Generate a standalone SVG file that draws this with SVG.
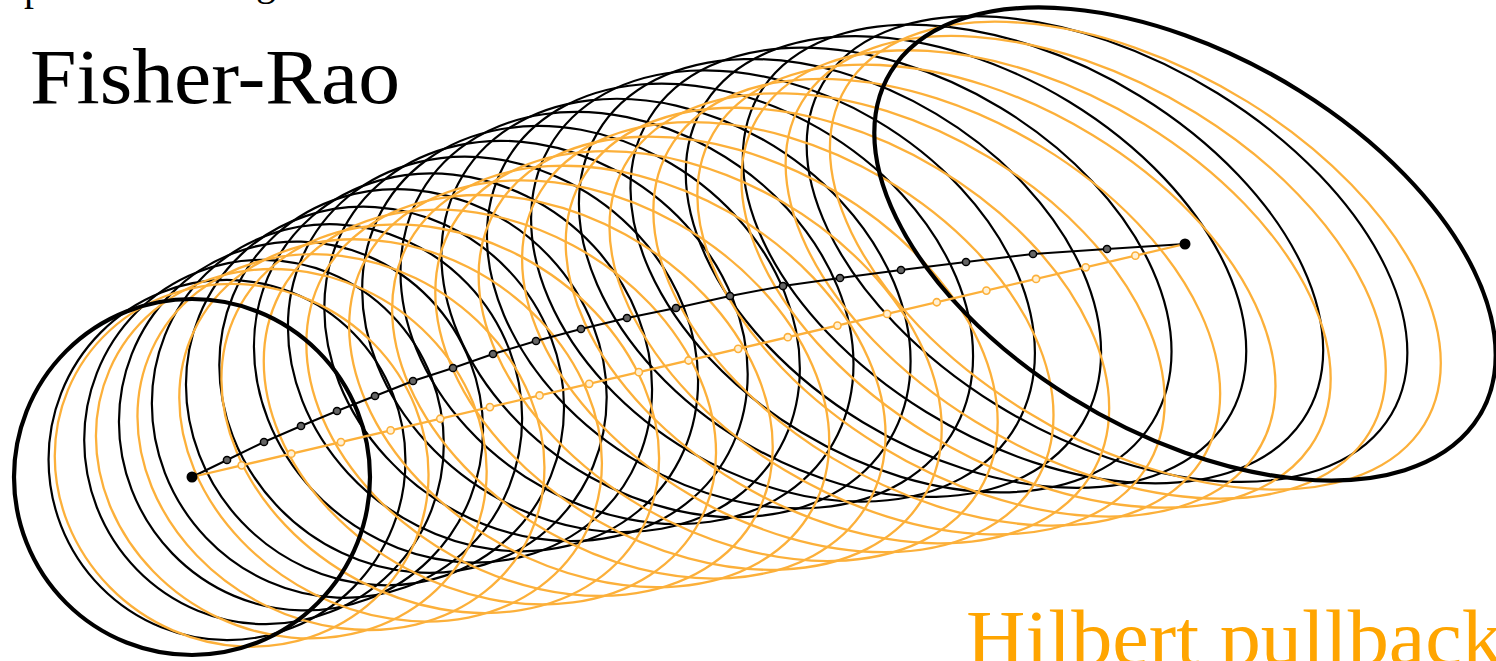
<svg xmlns="http://www.w3.org/2000/svg" width="1496" height="661" viewBox="0 0 1496 661">
<style>
.e{fill:none;vector-effect:non-scaling-stroke}
.fr{stroke:#000;stroke-width:2.2}
.hp{stroke:#FCB03A;stroke-width:2.3}
.thick{stroke:#000;stroke-width:4.2}
.pb{fill:#666;stroke:#000;stroke-width:1.5}
.po{fill:#FFF1D6;stroke:#FCB03A;stroke-width:1.6}
.lbl{font-family:"Liberation Serif","DejaVu Serif",serif}
</style>
<rect width="1496" height="661" fill="#fff"/>
<g id="fisher-rao-ellipses">
<circle class="e fr" r="1" transform="matrix(178.455 0.483 0 180.03 227 460)"/>
<circle class="e fr" r="1" transform="matrix(179.81 1.919 0 182.16 264 442)"/>
<circle class="e fr" r="1" transform="matrix(182.05 4.264 0 184.38 301 426)"/>
<circle class="e fr" r="1" transform="matrix(185.14 7.454 0 186.65 337 411)"/>
<circle class="e fr" r="1" transform="matrix(189.04 11.41 0 188.93 375 396)"/>
<circle class="e fr" r="1" transform="matrix(193.70 16.03 0 191.18 413 381)"/>
<circle class="e fr" r="1" transform="matrix(199.07 21.23 0 193.36 453 368)"/>
<circle class="e fr" r="1" transform="matrix(205.085 26.92 0 195.44 493 354)"/>
<circle class="e fr" r="1" transform="matrix(211.70 33.00 0 197.41 536 341)"/>
<circle class="e fr" r="1" transform="matrix(218.85 39.41 0 199.23 581 329)"/>
<circle class="e fr" r="1" transform="matrix(226.50 46.08 0 200.90 627 318)"/>
<circle class="e fr" r="1" transform="matrix(234.585 52.94 0 202.41 676 308)"/>
<circle class="e fr" r="1" transform="matrix(243.07 59.97 0 203.76 730 296)"/>
<circle class="e fr" r="1" transform="matrix(251.914 67.11 0 204.94 783 286)"/>
<circle class="e fr" r="1" transform="matrix(261.08 74.33 0 205.97 840 278)"/>
<circle class="e fr" r="1" transform="matrix(270.53 81.62 0 206.84 901 270)"/>
<circle class="e fr" r="1" transform="matrix(280.246 88.94 0 207.55 966 262)"/>
<circle class="e fr" r="1" transform="matrix(290.194 96.30 0 208.11 1033 254)"/>
<circle class="e fr" r="1" transform="matrix(300.35 103.67 0 208.53 1107 249)"/>
</g>
<g id="hilbert-ellipses">
<circle class="e hp" r="1" transform="matrix(186.885 9.23 0 181.14 241.65 465.35)"/>
<circle class="e hp" r="1" transform="matrix(195.37 17.659 0 183.84 291.3 453.7)"/>
<circle class="e hp" r="1" transform="matrix(203.5 25.43 0 186.21 340.95 442.05)"/>
<circle class="e hp" r="1" transform="matrix(211.32 32.65 0 188.33 390.6 430.4)"/>
<circle class="e hp" r="1" transform="matrix(218.85 39.41 0 190.245 440.25 418.75)"/>
<circle class="e hp" r="1" transform="matrix(226.14 45.77 0 192.0 489.9 407.1)"/>
<circle class="e hp" r="1" transform="matrix(233.2 51.78 0 193.62 539.55 395.45)"/>
<circle class="e hp" r="1" transform="matrix(240.05 57.49 0 195.135 589.2 383.8)"/>
<circle class="e hp" r="1" transform="matrix(246.71 62.93 0 196.56 638.85 372.15)"/>
<circle class="e hp" r="1" transform="matrix(253.2 68.13 0 197.905 688.5 360.5)"/>
<circle class="e hp" r="1" transform="matrix(259.52 73.12 0 199.18 738.15 348.85)"/>
<circle class="e hp" r="1" transform="matrix(265.7 77.91 0 200.41 787.8 337.2)"/>
<circle class="e hp" r="1" transform="matrix(271.73 82.53 0 201.58 837.45 325.55)"/>
<circle class="e hp" r="1" transform="matrix(277.63 86.99 0 202.71 887.1 313.9)"/>
<circle class="e hp" r="1" transform="matrix(283.41 91.3 0 203.8 936.75 302.25)"/>
<circle class="e hp" r="1" transform="matrix(289.07 95.48 0 204.855 986.4 290.6)"/>
<circle class="e hp" r="1" transform="matrix(294.63 99.53 0 205.885 1036.05 278.95)"/>
<circle class="e hp" r="1" transform="matrix(300.08 103.47 0 206.885 1085.7 267.3)"/>
<circle class="e hp" r="1" transform="matrix(305.44 107.31 0 207.855 1135.35 255.65)"/>
</g>
<g id="start-ellipse">
<circle class="e thick" cx="192" cy="477" r="178"/>
</g>
<g id="end-ellipse">
<circle class="e thick" r="1" transform="matrix(310.7 111.04 0 208.81 1185 244)"/>
</g>
<g id="connectors">
<polyline fill="none" stroke="#000" stroke-width="2" points="192,477 227,460 264,442 301,426 337,411 375,396 413,381 453,368 493,354 536,341 581,329 627,318 676,308 730,296 783,286 840,278 901,270 966,262 1033,254 1107,249 1185,244"/>
<line x1="192" y1="477" x2="1185" y2="244" stroke="#FCB03A" stroke-width="2.3"/>
</g>
<g id="fisher-rao-points">
<circle class="pb" r="3.6" cx="227" cy="460"/>
<circle class="pb" r="3.6" cx="264" cy="442"/>
<circle class="pb" r="3.6" cx="301" cy="426"/>
<circle class="pb" r="3.6" cx="337" cy="411"/>
<circle class="pb" r="3.6" cx="375" cy="396"/>
<circle class="pb" r="3.6" cx="413" cy="381"/>
<circle class="pb" r="3.6" cx="453" cy="368"/>
<circle class="pb" r="3.6" cx="493" cy="354"/>
<circle class="pb" r="3.6" cx="536" cy="341"/>
<circle class="pb" r="3.6" cx="581" cy="329"/>
<circle class="pb" r="3.6" cx="627" cy="318"/>
<circle class="pb" r="3.6" cx="676" cy="308"/>
<circle class="pb" r="3.6" cx="730" cy="296"/>
<circle class="pb" r="3.6" cx="783" cy="286"/>
<circle class="pb" r="3.6" cx="840" cy="278"/>
<circle class="pb" r="3.6" cx="901" cy="270"/>
<circle class="pb" r="3.6" cx="966" cy="262"/>
<circle class="pb" r="3.6" cx="1033" cy="254"/>
<circle class="pb" r="3.6" cx="1107" cy="249"/>
</g>
<g id="hilbert-points">
<circle class="po" r="3.6" cx="241.65" cy="465.35"/>
<circle class="po" r="3.6" cx="291.3" cy="453.7"/>
<circle class="po" r="3.6" cx="340.95" cy="442.05"/>
<circle class="po" r="3.6" cx="390.6" cy="430.4"/>
<circle class="po" r="3.6" cx="440.25" cy="418.75"/>
<circle class="po" r="3.6" cx="489.9" cy="407.1"/>
<circle class="po" r="3.6" cx="539.55" cy="395.45"/>
<circle class="po" r="3.6" cx="589.2" cy="383.8"/>
<circle class="po" r="3.6" cx="638.85" cy="372.15"/>
<circle class="po" r="3.6" cx="688.5" cy="360.5"/>
<circle class="po" r="3.6" cx="738.15" cy="348.85"/>
<circle class="po" r="3.6" cx="787.8" cy="337.2"/>
<circle class="po" r="3.6" cx="837.45" cy="325.55"/>
<circle class="po" r="3.6" cx="887.1" cy="313.9"/>
<circle class="po" r="3.6" cx="936.75" cy="302.25"/>
<circle class="po" r="3.6" cx="986.4" cy="290.6"/>
<circle class="po" r="3.6" cx="1036.05" cy="278.95"/>
<circle class="po" r="3.6" cx="1085.7" cy="267.3"/>
<circle class="po" r="3.6" cx="1135.35" cy="255.65"/>
</g>
<g id="endpoints">
<circle cx="192" cy="477" r="5.5" fill="#000"/>
<circle cx="1185" cy="244" r="5.5" fill="#000"/>
</g>
<g id="labels">
<text class="lbl" x="30" y="103" font-size="78" textLength="370" lengthAdjust="spacingAndGlyphs" fill="#000">Fisher-Rao</text>
<text class="lbl" x="966" y="664" font-size="78" textLength="537" lengthAdjust="spacingAndGlyphs" fill="#FFA500">Hilbert pullback</text>
<text class="lbl" x="24" y="0" font-size="40" fill="#000">p</text>
<text class="lbl" x="256" y="-5" font-size="40" fill="#000">g</text>
</g>
</svg>
